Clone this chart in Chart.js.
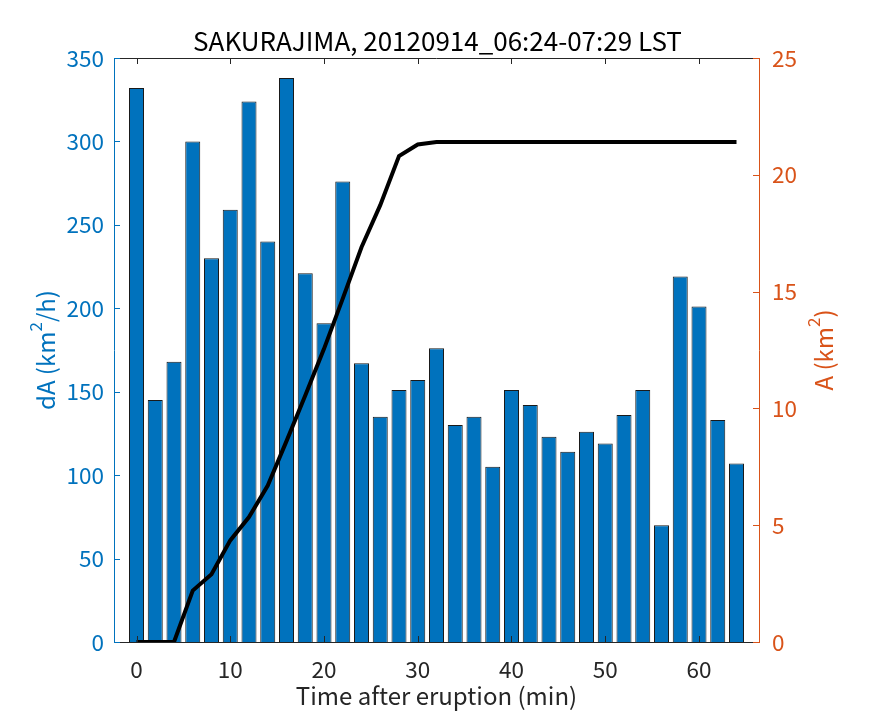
<!DOCTYPE html>
<html>
<head>
<meta charset="utf-8">
<script src="https://cdn.jsdelivr.net/npm/chart.js@4.4.1/dist/chart.umd.min.js"></script>
<style>
  html, body { margin: 0; padding: 0; background: #fff; }
  #wrap { width: 875px; height: 723px; }
</style>
</head>
<body>
<div id="wrap"><canvas id="chart" width="875" height="723"></canvas></div>
<script>
// time after eruption (min), one bar / point every 2 min
const timeMin = [0, 2, 4, 6, 8, 10, 12, 14, 16, 18, 20, 22, 24, 26, 28, 30, 32,
  34, 36, 38, 40, 42, 44, 46, 48, 50, 52, 54, 56, 58, 60, 62, 64];
// dA (km^2/h)
const dA = [332, 145, 168, 300, 230, 259, 324, 240, 338, 221, 191, 276, 167, 135, 151, 157, 176,
  130, 135, 105, 151, 142, 123, 114, 126, 119, 136, 151, 70, 219, 201, 133, 107];
// cumulative A (km^2)
const areaA = [0, 0, 0, 2.2, 2.9, 4.35, 5.35, 6.7, 8.6, 10.55, 12.55, 14.7, 16.9, 18.7, 20.8, 21.3, 21.4,
  21.4, 21.4, 21.4, 21.4, 21.4, 21.4, 21.4, 21.4, 21.4, 21.4, 21.4, 21.4, 21.4, 21.4, 21.4, 21.4];

const xTicks = [0, 10, 20, 30, 40, 50, 60];
const leftTicks = [0, 50, 100, 150, 200, 250, 300, 350];
const rightTicks = [0, 5, 10, 15, 20, 25];

const BLUE = "#0072BD";
const ORANGE = "#D95319";
const DARK = "#262626";
const FONT = "'Noto Sans CJK JP', 'Noto Sans', sans-serif";

// draws inward tick marks, the top box edge and the y axis titles (with superscript)
const matlabAxes = {
  id: "matlabAxes",
  afterDraw(chart) {
    const { ctx, chartArea: a, scales } = chart;
    const len = 6;
    ctx.save();
    ctx.lineWidth = 1;

    ctx.strokeStyle = DARK;
    ctx.beginPath();
    ctx.moveTo(a.left, a.top + 0.5);
    ctx.lineTo(a.right, a.top + 0.5);
    xTicks.forEach((v) => {
      const px = Math.round(scales.x.getPixelForValue(v)) + 0.5;
      ctx.moveTo(px, a.bottom);
      ctx.lineTo(px, a.bottom - len);
      ctx.moveTo(px, a.top);
      ctx.lineTo(px, a.top + len);
    });
    ctx.stroke();

    ctx.strokeStyle = BLUE;
    ctx.beginPath();
    leftTicks.forEach((v) => {
      const py = Math.round(scales.yL.getPixelForValue(v)) + 0.5;
      ctx.moveTo(a.left, py);
      ctx.lineTo(a.left + len, py);
    });
    ctx.stroke();

    ctx.strokeStyle = ORANGE;
    ctx.beginPath();
    rightTicks.forEach((v) => {
      const py = Math.round(scales.yR.getPixelForValue(v)) + 0.5;
      ctx.moveTo(a.right, py);
      ctx.lineTo(a.right - len, py);
    });
    ctx.stroke();

    const midY = (a.top + a.bottom) / 2;
    drawSupTitle(ctx, ["dA (km", "2", "/h)"], 46, midY, BLUE);
    drawSupTitle(ctx, ["A (km", "2", ")"], 824, midY, ORANGE);
    ctx.restore();
  },
};

function drawSupTitle(ctx, parts, x, y, color) {
  const big = "24px " + FONT;
  const small = "17px " + FONT;
  ctx.save();
  ctx.translate(x, y);
  ctx.rotate(-Math.PI / 2);
  ctx.fillStyle = color;
  ctx.textBaseline = "middle";
  ctx.textAlign = "left";
  ctx.font = big;
  const w0 = ctx.measureText(parts[0]).width;
  const w2 = ctx.measureText(parts[2]).width;
  ctx.font = small;
  const w1 = ctx.measureText(parts[1]).width;
  let cx = -(w0 + w1 + w2) / 2;
  ctx.font = big;
  ctx.fillText(parts[0], cx, 0);
  cx += w0;
  ctx.font = small;
  ctx.fillText(parts[1], cx, -10);
  cx += w1;
  ctx.font = big;
  ctx.fillText(parts[2], cx, 0);
  ctx.restore();
}

new Chart(document.getElementById("chart"), {
  type: "bar",
  data: {
    datasets: [
      {
        type: "line",
        label: "A",
        data: timeMin.map((t, i) => ({ x: t, y: areaA[i] })),
        yAxisID: "yR",
        borderColor: "#000",
        borderWidth: 4,
        pointRadius: 0,
        tension: 0,
        fill: false,
        order: 0,
      },
      {
        label: "dA",
        data: timeMin.map((t, i) => ({ x: t, y: dA[i] })),
        yAxisID: "yL",
        backgroundColor: BLUE,
        borderColor: "#1a1a1a",
        borderWidth: 1,
        borderSkipped: "bottom",
        barPercentage: 1,
        categoryPercentage: 0.8,
        order: 1,
      },
    ],
  },
  options: {
    responsive: false,
    animation: false,
    devicePixelRatio: 1,
    layout: { padding: 0 },
    plugins: {
      legend: { display: false },
      tooltip: { enabled: false },
      title: {
        display: true,
        text: "SAKURAJIMA, 20120914_06:24-07:29 LST",
        color: "#000",
        font: { family: FONT, size: 26, weight: "normal", lineHeight: 1.2 },
        padding: { top: 26, bottom: 0.8 },
      },
    },
    scales: {
      x: {
        type: "linear",
        position: "bottom",
        min: -2.4,
        max: 66.4,
        offset: false,
        afterBuildTicks: (s) => { s.ticks = xTicks.map((v) => ({ value: v })); },
        afterFit: (s) => { s.height = 81; },
        grid: { display: false, drawTicks: false },
        border: { display: true, color: DARK, width: 1 },
        ticks: { color: DARK, padding: 14, maxRotation: 0, font: { family: FONT, size: 22.5 } },
        title: {
          display: true,
          text: "Time after eruption (min)",
          color: DARK,
          font: { family: FONT, size: 24 },
          padding: { top: 0, bottom: 13 },
        },
      },
      yL: {
        type: "linear",
        position: "left",
        min: 0,
        max: 350,
        afterBuildTicks: (s) => { s.ticks = leftTicks.map((v) => ({ value: v })); },
        afterFit: (s) => { s.width = 114; },
        grid: { display: false, drawTicks: false },
        border: { display: true, color: BLUE, width: 1 },
        ticks: { color: BLUE, padding: 10, font: { family: FONT, size: 22.5 } },
      },
      yR: {
        type: "linear",
        position: "right",
        min: 0,
        max: 25,
        afterBuildTicks: (s) => { s.ticks = rightTicks.map((v) => ({ value: v })); },
        afterFit: (s) => { s.width = 116; },
        grid: { display: false, drawTicks: false },
        border: { display: true, color: ORANGE, width: 1 },
        ticks: { color: ORANGE, padding: 13, font: { family: FONT, size: 22.5 } },
      },
    },
  },
  plugins: [matlabAxes],
});
</script>
</body>
</html>
